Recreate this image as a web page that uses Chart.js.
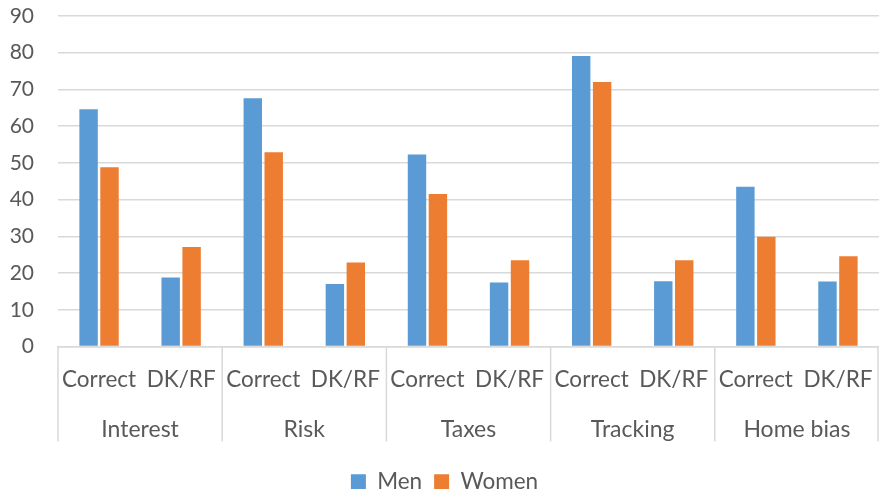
<!DOCTYPE html>
<html lang="en">
  <head>
    <meta charset="UTF-8" />
    <title>Men vs Women</title>
    <style>
      html, body { margin: 0; padding: 0; background: #fff; }
      .chart-box { width: 879px; height: 489px; }
    </style>
  </head>
  <body>
    <div class="chart-box">
      <canvas id="myChart"></canvas>
    </div>

    <script src="https://cdn.jsdelivr.net/npm/chart.js"></script>

    <script>
      const answers = ["Correct", "DK/RF", "Correct", "DK/RF", "Correct", "DK/RF", "Correct", "DK/RF", "Correct", "DK/RF"];
      const topics = ["Interest", "Risk", "Taxes", "Tracking", "Home bias"];
      const men = [64.6, 18.8, 67.6, 17.0, 52.3, 17.4, 79.1, 17.8, 43.5, 17.7];
      const women = [48.8, 27.1, 52.9, 22.9, 41.5, 23.5, 72.0, 23.5, 29.9, 24.6];
      const yTicks = [0, 10, 20, 30, 40, 50, 60, 70, 80, 90];

      const textColor = "#595959";
      const lineColor = "#d9d9d9";
      const fontFamily = "Lato, 'Liberation Sans', sans-serif";

      // vertical separators between the topic groups
      const groupLines = {
        id: "groupLines",
        afterDraw(chart) {
          const x = chart.scales.x;
          const ctx = chart.ctx;
          const step = x.getPixelForValue(1) - x.getPixelForValue(0);
          const top = chart.chartArea.bottom;
          ctx.save();
          ctx.strokeStyle = lineColor;
          ctx.lineWidth = 1.5;
          for (let i = 0; i <= topics.length; i++) {
            let px = x.getPixelForValue(i * 2) - step / 2;
            if (i == topics.length) px = x.getPixelForValue(answers.length - 1) + step / 2 - 1;
            ctx.beginPath();
            ctx.moveTo(px, top);
            ctx.lineTo(px, top + 95);
            ctx.stroke();
          }
          ctx.restore();
        },
      };

      const chart = new Chart(document.getElementById("myChart"), {
        type: "bar",
        data: {
          labels: answers,
          datasets: [
            { label: "Men", data: men, backgroundColor: "#5B9BD5" },
            { label: "Women", data: women, backgroundColor: "#ED7D31" },
          ],
        },
        options: {
          responsive: true,
          maintainAspectRatio: false,
          animation: false,
          categoryPercentage: 0.51,
          barPercentage: 0.88,
          layout: { padding: { left: 10, right: 0, top: 16, bottom: -14 } },
          plugins: {
            legend: {
              position: "bottom",
              labels: {
                boxWidth: 15,
                boxHeight: 15,
                padding: 12,
                color: textColor,
                font: { family: fontFamily, size: 22.5 },
              },
            },
            tooltip: { enabled: false },
          },
          scales: {
            y: {
              min: 0,
              max: 90,
              afterBuildTicks: (s) => { s.ticks = yTicks.map((v) => ({ value: v })); },
              afterFit: (s) => { s.width = 48; s.paddingTop = 0; s.paddingBottom = 0; },
              border: { display: false },
              grid: { color: lineColor, lineWidth: 1.5, drawTicks: false },
              ticks: { padding: 24, color: textColor, font: { family: fontFamily, size: 21 } },
            },
            x: {
              afterFit: (s) => { s.height = 60; s.paddingLeft = 0; s.paddingRight = 0; },
              border: { display: true, color: lineColor, width: 1.5 },
              grid: { display: false, drawTicks: false },
              ticks: { padding: 20, color: textColor, autoSkip: false, maxRotation: 0, font: { family: fontFamily, size: 22.5 } },
            },
            x2: {
              type: "category",
              position: "bottom",
              labels: topics,
              offset: true,
              afterFit: (s) => { s.height = 52; s.paddingLeft = 0; s.paddingRight = 0; },
              border: { display: false },
              grid: { display: false, drawTicks: false },
              ticks: { padding: 9, color: textColor, font: { family: fontFamily, size: 23 } },
            },
          },
        },
        plugins: [groupLines],
      });
    </script>
  </body>
</html>
